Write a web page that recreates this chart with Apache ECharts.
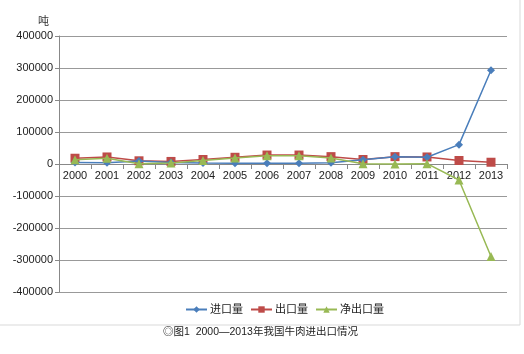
<!DOCTYPE html>
<html><head><meta charset="utf-8">
<script src="https://cdn.jsdelivr.net/npm/echarts@6/dist/echarts.min.js"></script>
<style>html,body{margin:0;padding:0;background:#fff}#c{width:524px;height:354px}</style>
</head><body><div id="c"></div>
<script>
const years = ['2000','2001','2002','2003','2004','2005','2006','2007','2008','2009','2010','2011','2012','2013'];
const importVals = [5000, 4000, 9000, 5000, 3000, 2000, 2000, 2000, 4000, 13000, 23000, 21000, 60500, 293000];
const exportVals = [18000, 22000, 10000, 8000, 14000, 21000, 28000, 28000, 23000, 14000, 23000, 22000, 11000, 5500];
const netVals = [13000, 18000, 1000, 3000, 11000, 19000, 26000, 26000, 19000, 1000, 0, 1000, -50000, -289000];
const seriesNames = ['进口量', '出口量', '净出口量'];
const unitLabel = '吨';
const caption = '◎图1  2000—2013年我国牛肉进出口情况';

const chart = echarts.init(document.getElementById('c'), null, {renderer: 'canvas'});
const font = 'Arial, "Liberation Sans", "Noto Sans CJK SC", sans-serif';
const colors = ['#4a7ebb', '#be4b48', '#98b954'];
chart.setOption({
  animation: false,
  color: colors,
  textStyle: {fontFamily: font},
  grid: {left: 59, right: 17, top: 36, bottom: 62, containLabel: false},
  graphic: [
    {type: 'rect', shape: {x: -1, y: -1, width: 521, height: 326}, style: {fill: 'none', stroke: '#d9d9d9', lineWidth: 1}, silent: true},
    {type: 'text', left: 38, top: 16, style: {text: unitLabel, fill: '#333', font: '11px ' + font}},
    {type: 'text', left: 163, top: 327, style: {text: caption, fill: '#222', font: '10.5px ' + font}}
  ],
  legend: {
    bottom: 39, left: 185, padding: 0,
    itemWidth: 21, itemHeight: 8, itemGap: 7,
    textStyle: {fontSize: 11, color: '#222', fontFamily: font, padding: [0, 0, 0, -2]},
    data: seriesNames
  },
  xAxis: {
    type: 'category', data: years, boundaryGap: true,
    offset: -128,
    axisLine: {onZero: false, lineStyle: {color: '#888'}},
    axisTick: {show: true, alignWithLabel: false, length: 5, lineStyle: {color: '#888'}},
    axisLabel: {color: '#222', fontSize: 11, margin: 6, interval: 0}
  },
  yAxis: {
    type: 'value', min: -400000, max: 400000, interval: 100000,
    axisLine: {show: true, lineStyle: {color: '#888'}},
    axisTick: {show: true, length: 4, lineStyle: {color: '#888'}},
    axisLabel: {color: '#222', fontSize: 11, margin: 6, formatter: v => String(v)},
    splitLine: {lineStyle: {color: '#999', width: 1}}
  },
  series: [
    {name: seriesNames[0], type: 'line', data: importVals, symbol: 'diamond', symbolSize: 8, lineStyle: {width: 1.5, color: colors[0]}, itemStyle: {color: colors[0]}, z: 3},
    {name: seriesNames[1], type: 'line', data: exportVals, symbol: 'rect', symbolSize: 9, lineStyle: {width: 1.5, color: colors[1]}, itemStyle: {color: colors[1]}, z: 2},
    {name: seriesNames[2], type: 'line', data: netVals, symbol: 'triangle', symbolSize: 9, lineStyle: {width: 1.5, color: colors[2]}, itemStyle: {color: colors[2]}, z: 4}
  ]
});
</script></body></html>
